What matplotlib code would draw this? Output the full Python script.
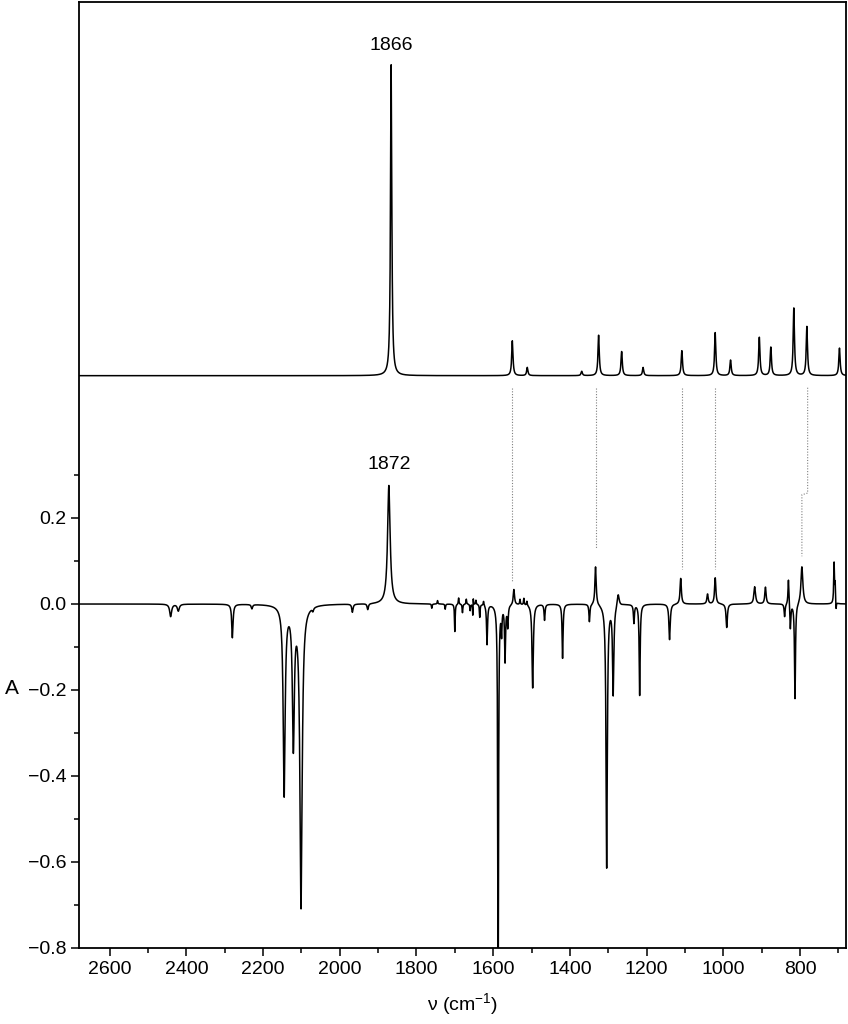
import numpy as np
import matplotlib
matplotlib.use('Agg')
import matplotlib.pyplot as plt

plt.rcParams['font.family'] = ['Liberation Sans', 'DejaVu Sans']
plt.rcParams['mathtext.default'] = 'regular'

# calculated spectrum (upper trace): band position, relative intensity
calc_pos = [1866, 1550, 1511, 1369, 1325, 1265, 1209, 1108, 1021, 981, 906, 876, 816, 782, 697]
calc_int = [0.723, 0.081, 0.019, 0.010, 0.094, 0.056, 0.019, 0.058, 0.100, 0.036, 0.089, 0.066, 0.157, 0.114, 0.064]
calc_offset = 0.531

# experimental difference spectrum (lower trace): position, absorbance, half width
exp_pos = [2441, 2421, 2280, 2229, 2145, 2121, 2101, 2070, 1967, 1927, 1872,
           1760, 1745, 1725, 1700, 1690, 1680, 1670, 1660, 1652, 1653, 1645, 1635, 1625,
           1616, 1587, 1578, 1569, 1562, 1546, 1530, 1520, 1512, 1497, 1466, 1419,
           1349, 1333, 1304, 1287, 1274, 1233, 1218, 1140, 1111, 1041, 1021, 991,
           918, 890, 840, 830, 825, 813, 795, 711, 708, 706]
exp_amp = [-0.029, -0.016, -0.078, -0.010, -0.44, -0.32, -0.70, -0.008, -0.019, -0.014, 0.276,
           -0.010, 0.008, -0.012, -0.064, 0.015, -0.020, 0.012, -0.015, 0.025, -0.035, 0.010, -0.030, 0.010,
           -0.093, -0.95, -0.06, -0.13, -0.05, 0.036, 0.012, 0.015, 0.010, -0.195, -0.037, -0.126,
           -0.041, 0.090, -0.612, -0.207, 0.029, -0.043, -0.212, -0.083, 0.060, 0.023, 0.061, -0.055,
           0.040, 0.039, -0.030, 0.062, -0.060, -0.222, 0.088, 0.094, 0.046, -0.024]
exp_hw = [3, 3, 2, 2, 3, 3, 3.5, 2, 2, 2, 4,
          1, 1, 1, 1, 1, 1, 1, 1, 0.8, 0.8, 1, 1, 1,
          1.5, 1.2, 1.2, 1.5, 1.5, 2, 1, 1, 1, 2, 1.5, 1.5,
          1.5, 2, 2, 2, 3, 1.5, 1.5, 2, 2, 2, 2, 2,
          2.5, 2, 1.5, 1.5, 1.5, 1.5, 3, 1.2, 1, 1]

# dotted guides linking calculated and observed bands
link_x = [1550, 1331, 1108, 1021]
link_y = [0.051, 0.127, 0.081, 0.081]


def lorentz(x, pos, amp, hw):
    y = np.zeros_like(x)
    for p, a, w in zip(pos, amp, hw):
        y += a * w**2 / ((x - p)**2 + w**2)
    return y


nu = np.arange(680, 2680.01, 0.25)
calc = calc_offset + lorentz(nu, calc_pos, calc_int, [2.0] * len(calc_pos))
exp = lorentz(nu, exp_pos, exp_amp, exp_hw)

fig = plt.figure(figsize=(8.48, 10.24), dpi=100)
ax = fig.add_axes([79/848, 76/1024, (846-79)/848, (1022-76)/1024])

ax.plot(nu, calc, color='black', lw=1.1)
ax.plot(nu, exp, color='black', lw=1.1)

for xl, yb in zip(link_x, link_y):
    ax.plot([xl, xl], [0.503, yb], color='gray', lw=0.8, ls=(0, (1, 1.5)))
# bent guide for the 782/795 pair
ax.plot([780, 780, 795, 795], [0.503, 0.258, 0.254, 0.111], color='gray', lw=0.8, ls=(0, (1, 1.5)))

ax.text(1866, 1.30, '1866', ha='center', va='center', fontsize=14)
ax.text(1872, 0.325, '1872', ha='center', va='center', fontsize=14)

ax.set_xlim(2680, 680)
ax.set_ylim(-0.8, 1.4)
ax.set_xticks(np.arange(800, 2601, 200))
ax.set_xticks(np.arange(700, 2600, 200), minor=True)
ax.set_yticks([-0.8, -0.6, -0.4, -0.2, 0.0, 0.2])
ax.set_yticks([-0.7, -0.5, -0.3, -0.1, 0.1, 0.3], minor=True)
ax.yaxis.set_major_formatter(matplotlib.ticker.FuncFormatter(
    lambda v, p: ('%.1f' % v).replace('-', '\u2212')))
ax.tick_params(which='major', direction='out', length=6, width=1.1, labelsize=14, pad=3)
ax.tick_params(which='minor', direction='out', length=3.8, width=1.1)
for s in ax.spines.values():
    s.set_linewidth(1.3)

ax.set_xlabel('\u03bd (cm$^{-1}$)', fontsize=14, labelpad=10)
fig.text(12/848, 1 - 688/1024, 'A', ha='center', va='center', fontsize=15)

fig.savefig('out.png', dpi=100)
